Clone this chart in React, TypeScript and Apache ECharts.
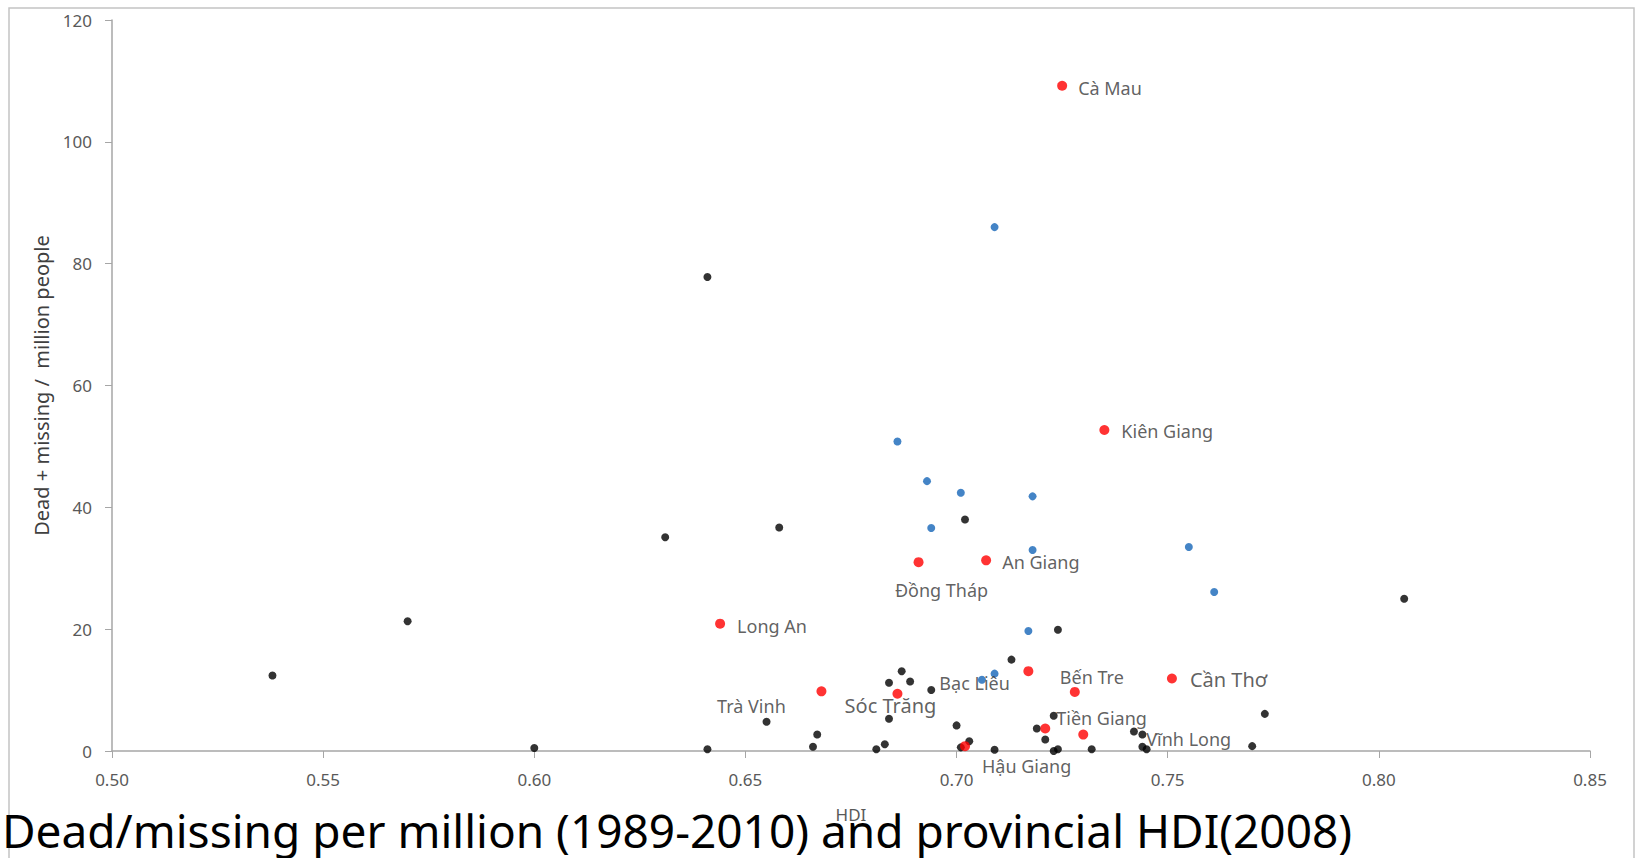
import React, { useEffect, useRef } from "react";
import * as echarts from "echarts";

// Other provinces (black)
const hdiBlack = [0.538, 0.570, 0.600, 0.631, 0.641, 0.641, 0.655, 0.658, 0.666, 0.667, 0.681, 0.683, 0.684, 0.684, 0.687, 0.689, 0.694, 0.700, 0.701, 0.702, 0.703, 0.709, 0.713, 0.719, 0.721, 0.723, 0.723, 0.724, 0.724, 0.732, 0.742, 0.744, 0.744, 0.745, 0.770, 0.773, 0.806];
const deadBlack = [12.4, 21.3, 0.5, 35.1, 77.8, 0.3, 4.8, 36.7, 0.7, 2.7, 0.3, 1.1, 11.2, 5.3, 13.1, 11.4, 10.0, 4.2, 0.6, 38.0, 1.6, 0.2, 15.0, 3.7, 1.9, 5.8, 0.0, 0.3, 19.9, 0.3, 3.2, 2.7, 0.7, 0.3, 0.8, 6.1, 25.0];

// Central coast provinces (blue)
const hdiBlue = [0.686, 0.693, 0.694, 0.701, 0.706, 0.709, 0.709, 0.717, 0.718, 0.718, 0.755, 0.761];
const deadBlue = [50.8, 44.3, 36.6, 42.4, 11.7, 12.7, 86.0, 19.7, 41.8, 33.0, 33.5, 26.1];

// Mekong delta provinces (red)
const provinces = ["Cà Mau", "Kiên Giang", "An Giang", "Đồng Tháp", "Long An", "Trà Vinh", "Sóc Trăng", "Bạc Liêu", "Bến Tre", "Cần Thơ", "Tiền Giang", "Vĩnh Long", "Hậu Giang"];
const hdiRed = [0.725, 0.735, 0.707, 0.691, 0.644, 0.668, 0.686, 0.717, 0.728, 0.751, 0.721, 0.730, 0.702];
const deadRed = [109.2, 52.7, 31.3, 31.0, 20.9, 9.8, 9.4, 13.1, 9.7, 11.9, 3.7, 2.7, 0.8];

const xMin = 0.5;
const xMax = 0.85;
const xStep = 0.05;
const yMin = 0;
const yMax = 120;
const yStep = 20;

const titleText = "Dead/missing per million (1989-2010) and provincial HDI(2008)";
const xName = "HDI";
const yName = "Dead + missing /  million people";

// label placement (styling, not data)
const labelPlacement: Record<string, { align: string; offset: [number, number]; size: number }> = {
  "Cà Mau": { align: "left", offset: [16, 2], size: 18 },
  "Kiên Giang": { align: "left", offset: [17, 1], size: 18 },
  "An Giang": { align: "left", offset: [16, 2], size: 18 },
  "Đồng Tháp": { align: "center", offset: [23, 28], size: 18 },
  "Long An": { align: "left", offset: [17, 2], size: 18 },
  "Trà Vinh": { align: "center", offset: [-70, 15], size: 18 },
  "Sóc Trăng": { align: "center", offset: [-7, 12], size: 20 },
  "Bạc Liêu": { align: "left", offset: [-89, 12], size: 18 },
  "Bến Tre": { align: "left", offset: [-15, -15], size: 18 },
  "Cần Thơ": { align: "left", offset: [18, 1], size: 20 },
  "Tiền Giang": { align: "left", offset: [11, -10], size: 18 },
  "Vĩnh Long": { align: "left", offset: [63, 4], size: 18 },
  "Hậu Giang": { align: "left", offset: [17, 20], size: 18 },
};

const FONT = "'Noto Sans', 'Open Sans', sans-serif";

export default function App() {
  const ref = useRef<HTMLDivElement>(null);

  useEffect(() => {
    if (!ref.current) return;
    const chart = echarts.init(ref.current, undefined, { renderer: "svg" });

    const blackData = hdiBlack.map((x, i) => [x, deadBlack[i]]);
    const blueData = hdiBlue.map((x, i) => [x, deadBlue[i]]);
    const redData = hdiRed.map((x, i) => {
      const p = labelPlacement[provinces[i]];
      return {
        name: provinces[i],
        value: [x, deadRed[i]],
        label: {
          show: true,
          position: "inside",
          align: p.align,
          verticalAlign: "middle",
          offset: p.offset,
          fontSize: p.size,
          formatter: "{b}",
        },
      };
    });

    const option: any = {
      animation: false,
      backgroundColor: "#ffffff",
      textStyle: { fontFamily: FONT },
      grid: { left: 112, top: 20, right: 47, bottom: 107, containLabel: false },
      xAxis: {
        type: "value",
        min: xMin,
        max: xMax,
        interval: xStep,
        name: xName,
        nameLocation: "middle",
        nameGap: 55,
        nameTextStyle: { color: "#595959", fontSize: 17, fontFamily: FONT },
        axisLine: { show: true, lineStyle: { color: "#a6a6a6", width: 1.5 } },
        axisTick: { show: true, inside: false, length: 7, lineStyle: { color: "#a6a6a6" } },
        axisLabel: {
          color: "#595959",
          fontSize: 17,
          fontFamily: FONT,
          margin: 20,
          formatter: (v: number) => v.toFixed(2),
        },
        splitLine: { show: false },
      },
      yAxis: {
        type: "value",
        min: yMin,
        max: yMax,
        interval: yStep,
        name: yName,
        nameLocation: "middle",
        nameRotate: 90,
        nameGap: 60,
        nameTextStyle: { color: "#404040", fontSize: 20, fontFamily: FONT },
        axisLine: { show: true, lineStyle: { color: "#a6a6a6", width: 1.5 } },
        axisTick: { show: true, inside: false, length: 7, lineStyle: { color: "#a6a6a6" } },
        axisLabel: { color: "#595959", fontSize: 17, fontFamily: FONT, margin: 20 },
        splitLine: { show: false },
      },
      series: [
        {
          type: "scatter",
          name: "other",
          data: blackData,
          symbol: "circle",
          symbolSize: 8,
          itemStyle: { color: "#000000" },
          z: 2,
        },
        {
          type: "scatter",
          name: "central",
          data: blueData,
          symbol: "circle",
          symbolSize: 8,
          itemStyle: { color: "#1565B8" },
          z: 3,
        },
        {
          type: "scatter",
          name: "mekong",
          data: redData,
          symbol: "circle",
          symbolSize: 10,
          itemStyle: { color: "#FF0000" },
          label: { color: "#383838", fontFamily: FONT },
          z: 4,
        },
      ],
      graphic: [
        {
          type: "rect",
          z: -10,
          shape: { x: 9, y: 8, width: 1625, height: 900 },
          style: { fill: "none", stroke: "#c4c4c4", lineWidth: 1.5 },
          silent: true,
        },
        {
          type: "text",
          z: 100,
          x: 2,
          y: 830,
          style: {
            text: titleText,
            fill: "#000000",
            font: `46px ${FONT}`,
            textAlign: "left",
            textVerticalAlign: "middle",
          },
          silent: true,
        },
      ],
    };

    chart.setOption(option);
    return () => chart.dispose();
  }, []);

  return (
    <div
      ref={ref}
      style={{ position: "fixed", left: 0, top: 0, width: 1637, height: 858, background: "#fff" }}
    />
  );
}
